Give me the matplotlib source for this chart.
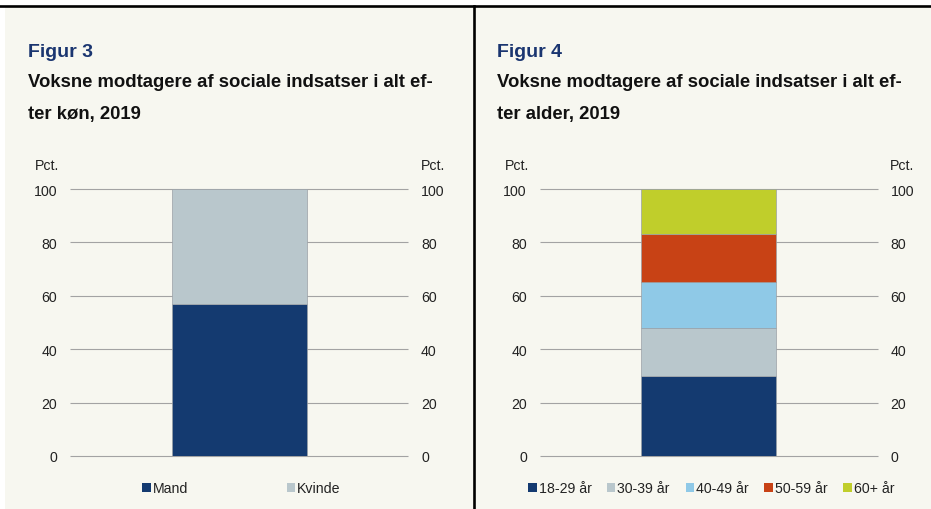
import matplotlib
matplotlib.use("Agg")
import matplotlib.pyplot as plt
from matplotlib.patches import Rectangle
from matplotlib.lines import Line2D
import numpy as np

plt.rcParams['font.family'] = ['Liberation Sans', 'DejaVu Sans']

# ---- data ----
gender_labels = ["Mand", "Kvinde"]
gender_values = [57, 43]
gender_colors = ["#143a70", "#b9c7cc"]

age_labels = ["18-29 år", "30-39 år", "40-49 år", "50-59 år", "60+ år"]
age_values = [30, 18, 17, 18, 17]
age_colors = ["#143a70", "#b9c7cc", "#8fc9e7", "#c84215", "#c0ce2b"]

yticks = [0, 20, 40, 60, 80, 100]

fig_titles = ["Figur 3", "Figur 4"]
sub_line1 = ["Voksne modtagere af sociale indsatser i alt ef-",
             "Voksne modtagere af sociale indsatser i alt ef-"]
sub_line2 = ["ter køn, 2019", "ter alder, 2019"]
unit = "Pct."

W, H = 931, 510
fig = plt.figure(figsize=(W / 100, H / 100), dpi=100, facecolor="white")


def fx(x):
    return x / W


def fy(y):
    return 1 - y / H


# background
fig.patches.append(Rectangle((fx(5), 0), fx(W) - fx(5), fy(7.5), transform=fig.transFigure,
                             facecolor="#f7f7f0", edgecolor="none", zorder=-5))
fig.lines.append(Line2D([0, 1], [fy(6.5), fy(6.5)], transform=fig.transFigure,
                        color="black", lw=1.9, zorder=5))
fig.lines.append(Line2D([fx(473.8), fx(473.8)], [fy(6.5), 0], transform=fig.transFigure,
                        color="black", lw=1.9, zorder=5))

TXT = "#222222"
FS = 10.2


def panel(x0, labels, values, colors, ftitle, l1, l2, legend_x):
    left_ax = x0 + 42
    ax = fig.add_axes([fx(left_ax), fy(457), fx(338.4), 267 / H])
    ax.set_facecolor("none")
    ax.set_zorder(1)
    ax.set_xlim(-0.5, 0.5)
    ax.set_ylim(0, 100)
    ax.hlines(yticks, -0.5, 0.5, colors="#a3a3a3", lw=0.8, clip_on=False, zorder=1)
    bottom = 0
    for lab, v, c in zip(labels, values, colors):
        ax.bar(0, v, width=0.4, bottom=bottom, color=c, edgecolor="#9aa0a6",
               linewidth=0.5, zorder=3, label=lab)
        bottom += v
    ax.set_yticks(yticks)
    ax.set_yticklabels([str(t) for t in yticks])
    ax.set_xticks([])
    ax.tick_params(axis="y", left=False, right=False, labelleft=True, labelright=True,
                   length=0, pad=9.1, labelsize=FS, labelcolor=TXT)
    for s in ax.spines.values():
        s.set_visible(False)
    # unit labels
    fig.text(fx(x0 + 7), fy(170), unit, fontsize=FS, color=TXT, ha="left", va="baseline")
    fig.text(fx(left_ax + 338.4 + 12.2), fy(170), unit, fontsize=FS, color=TXT,
             ha="left", va="baseline")
    # titles
    fig.text(fx(x0), fy(57.3), ftitle, fontsize=14, fontweight="bold", color="#1a3570",
             ha="left", va="baseline")
    fig.text(fx(x0), fy(87.3), l1, fontsize=13.3, fontweight="bold", color="#111111",
             ha="left", va="baseline")
    fig.text(fx(x0), fy(119), l2, fontsize=13.3, fontweight="bold", color="#111111",
             ha="left", va="baseline")
    # legend
    for lab, c, lx in zip(labels, colors, legend_x):
        fig.patches.append(Rectangle((fx(lx), fy(492.5)), fx(8.3), 8.3 / H,
                                     transform=fig.transFigure, facecolor=c,
                                     edgecolor="none", zorder=4))
        fig.text(fx(lx + 10.5), fy(492.7), lab, fontsize=FS, color=TXT,
                 ha="left", va="baseline")


panel(28, gender_labels, gender_values, gender_colors, fig_titles[0], sub_line1[0],
      sub_line2[0], [142.3, 286.7])
panel(497.5, age_labels, age_values, age_colors, fig_titles[1], sub_line1[1],
      sub_line2[1], [528.3, 606.7, 685.7, 764.3, 843.3])

fig.savefig("out.png", dpi=100, facecolor="white")
